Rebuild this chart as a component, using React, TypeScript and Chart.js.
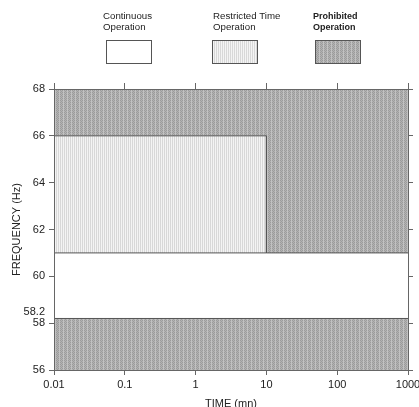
import { useEffect, useRef } from "react";
import { Chart, registerables } from "chart.js";

Chart.register(...registerables);

// ---- data ----
const legendLabels: string[][] = [
  ["Continuous", "Operation"],
  ["Restricted Time", "Operation"],
  ["Prohibited", "Operation"],
];
const xTickValues = [0.01, 0.1, 1, 10, 100, 1000];
const xTickLabels = ["0.01", "0.1", "1", "10", "100", "1000"];
const yTickValues = [56, 58, 58.2, 60, 62, 64, 66, 68];
const yTickLabels = ["56", "58", "58.2", "60", "62", "64", "66", "68"];
const yRightTickValues = [56, 58, 60, 62, 64, 66, 68];
const xRange = [0.01, 1000];
const yRange = [56, 68];

// prohibited (upper): lower boundary, filled up to 68
const prohibitedUpperX = [0.01, 10, 10, 1000];
const prohibitedUpperY = [66, 66, 61, 61];
const prohibitedUpperTo = 68;
// restricted time: lower edge, filled up to 66
const restrictedX = [0.01, 10];
const restrictedY = [61, 61];
const restrictedTo = 66;
// prohibited (lower): upper edge, filled down to 56
const prohibitedLowerX = [0.01, 1000];
const prohibitedLowerY = [58.2, 58.2];
const prohibitedLowerTo = 56;

const FONT = "'Liberation Sans', Arial, Helvetica, sans-serif";
const LINE = "#555";
const AXIS = "#666";
const TEXT = "#222";

function makePattern(kind: "dark" | "light"): CanvasPattern | string {
  const c = document.createElement("canvas");
  const size = 4;
  c.width = size;
  c.height = size;
  const g = c.getContext("2d");
  if (!g) return kind === "dark" ? "#aeaeae" : "#e8e8e8";
  if (kind === "dark") {
    g.fillStyle = "#b3b3b3";
    g.fillRect(0, 0, size, size);
    g.fillStyle = "#9c9c9c";
    for (let y = 0; y < size; y++) {
      for (let x = 0; x < size; x++) {
        if ((x + y) % 2 === 0) g.fillRect(x, y, 1, 1);
      }
    }
    g.fillStyle = "#c2c2c2";
    g.fillRect(3, 0, 1, size);
  } else {
    g.fillStyle = "#f4f4f4";
    g.fillRect(0, 0, size, size);
    g.fillStyle = "#d8d8d8";
    g.fillRect(0, 0, 1, size);
    g.fillRect(2, 0, 1, size);
  }
  return g.createPattern(c, "repeat") || "#ccc";
}

const pts = (xs: number[], ys: number[]) => xs.map((x, i) => ({ x, y: ys[i] }));

export default function App() {
  const ref = useRef<HTMLCanvasElement | null>(null);

  useEffect(() => {
    if (!ref.current) return;
    const dark = makePattern("dark");
    const light = makePattern("light");
    const fills: (CanvasPattern | string)[] = ["#ffffff", light, dark];

    const legendPlugin = {
      id: "regionLegend",
      afterDraw(chart: any) {
        const ctx = chart.ctx as CanvasRenderingContext2D;
        const boxLeft = [106, 212, 315];
        const textLeft = [103, 213, 313];
        ctx.save();
        legendLabels.forEach((lines, i) => {
          ctx.fillStyle = fills[i] as any;
          ctx.fillRect(boxLeft[i], 40, 45, 23);
          ctx.strokeStyle = LINE;
          ctx.lineWidth = 1;
          ctx.strokeRect(boxLeft[i] + 0.5, 40.5, 45, 23);
          ctx.fillStyle = TEXT;
          ctx.textBaseline = "middle";
          ctx.textAlign = "left";
          ctx.font = i === 2 ? `bold 9px ${FONT}` : `9.7px ${FONT}`;
          lines.forEach((t, j) => ctx.fillText(t, textLeft[i], 16.5 + j * 11));
        });
        ctx.restore();
      },
    };

    const gridBase = {
      drawOnChartArea: false,
      drawTicks: true,
      tickLength: 5,
      tickColor: AXIS,
      z: 1,
    };
    const borderBase = { display: true, color: AXIS, width: 1, z: 1 };

    const chart = new Chart(ref.current, {
      type: "line",
      data: {
        datasets: [
          {
            label: "Prohibited Operation",
            data: pts(prohibitedUpperX, prohibitedUpperY),
            fill: { value: prohibitedUpperTo },
            backgroundColor: dark as any,
            borderColor: LINE,
            borderWidth: 1,
            pointRadius: 0,
            tension: 0,
          },
          {
            label: "Restricted Time Operation",
            data: pts(restrictedX, restrictedY),
            fill: { value: restrictedTo },
            backgroundColor: light as any,
            borderColor: LINE,
            borderWidth: 1,
            pointRadius: 0,
            tension: 0,
          },
          {
            label: "Prohibited Operation (low)",
            data: pts(prohibitedLowerX, prohibitedLowerY),
            fill: { value: prohibitedLowerTo },
            backgroundColor: dark as any,
            borderColor: LINE,
            borderWidth: 1,
            pointRadius: 0,
            tension: 0,
          },
        ],
      },
      options: {
        animation: false,
        responsive: false,
        devicePixelRatio: 1,
        events: [],
        layout: { autoPadding: false, padding: { top: 83, left: 0, right: 0, bottom: 0 } },
        plugins: { legend: { display: false }, tooltip: { enabled: false }, title: { display: false } },
        scales: {
          x: {
            type: "logarithmic",
            position: "bottom",
            min: xRange[0],
            max: xRange[1],
            afterBuildTicks: (s: any) => {
              s.ticks = xTickValues.map((v) => ({ value: v }));
            },
            afterFit: (s: any) => {
              s.height = 44;
              s.paddingLeft = 0;
              s.paddingRight = 0;
            },
            ticks: {
              autoSkip: false,
              maxRotation: 0,
              padding: 3,
              color: TEXT,
              font: { size: 11, family: FONT },
              callback: (_v: any, i: number) => xTickLabels[i],
            },
            grid: gridBase,
            border: borderBase,
            title: {
              display: true,
              text: "TIME (mn)",
              color: TEXT,
              font: { size: 11, family: FONT },
              padding: { top: 0, bottom: 3 },
            },
          },
          x2: {
            type: "logarithmic",
            position: "top",
            min: xRange[0],
            max: xRange[1],
            afterBuildTicks: (s: any) => {
              s.ticks = xTickValues.map((v) => ({ value: v }));
            },
            afterFit: (s: any) => {
              s.height = 6;
              s.paddingLeft = 0;
              s.paddingRight = 0;
            },
            ticks: { display: false },
            grid: { ...gridBase, tickLength: 6 },
            border: borderBase,
          },
          y: {
            type: "linear",
            position: "left",
            min: yRange[0],
            max: yRange[1],
            afterBuildTicks: (s: any) => {
              s.ticks = yTickValues.map((v) => ({ value: v }));
            },
            afterFit: (s: any) => {
              s.width = 54;
              s.paddingTop = 0;
              s.paddingBottom = 0;
            },
            ticks: {
              autoSkip: false,
              padding: 4,
              color: TEXT,
              font: { size: 11, family: FONT },
              callback: (_v: any, i: number) =>
                yTickLabels[i] === "58.2" ? [yTickLabels[i], ""] : yTickLabels[i],
            },
            grid: {
              ...gridBase,
              tickColor: (c: any) => (c.tick && c.tick.value === 58.2 ? "rgba(0,0,0,0)" : AXIS),
            },
            border: borderBase,
            title: {
              display: true,
              text: "FREQUENCY (Hz)",
              color: TEXT,
              font: { size: 11, family: FONT },
              padding: { top: 10, bottom: 0 },
            },
          },
          y2: {
            type: "linear",
            position: "right",
            min: yRange[0],
            max: yRange[1],
            afterBuildTicks: (s: any) => {
              s.ticks = yRightTickValues.map((v) => ({ value: v }));
            },
            afterFit: (s: any) => {
              s.width = 11;
              s.paddingTop = 0;
              s.paddingBottom = 0;
            },
            ticks: { display: false },
            grid: gridBase,
            border: borderBase,
          },
        },
      } as any,
      plugins: [legendPlugin],
    });
    return () => chart.destroy();
  }, []);

  return (
    <div style={{ position: "absolute", left: 0, top: 0, width: 419, height: 407, overflow: "hidden", background: "#fff" }}>
      <canvas ref={ref} width={419} height={414} style={{ display: "block" }} />
    </div>
  );
}
